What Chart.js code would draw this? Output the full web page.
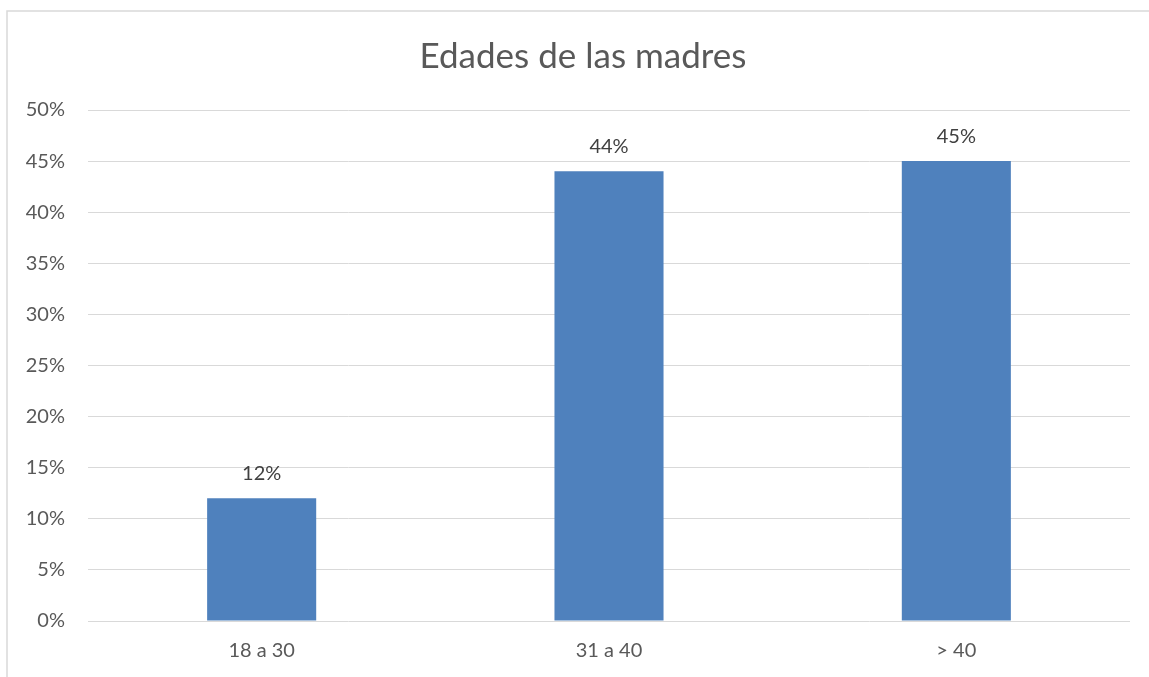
<!DOCTYPE html>
<html>
<head>
<meta charset="utf-8">
<script src="https://cdn.jsdelivr.net/npm/chart.js@4/dist/chart.umd.min.js"></script>
<style>
html,body{margin:0;padding:0;background:#fff;}
#wrap{position:relative;width:1149px;height:677px;}
</style>
</head>
<body>
<div id="wrap"><canvas id="c" width="1149" height="677"></canvas></div>
<script>
const titleText = "Edades de las madres";
const categories = ["18 a 30", "31 a 40", "> 40"];
const values = [12, 44, 45];
const yTicks = [0, 5, 10, 15, 20, 25, 30, 35, 40, 45, 50];

const FONT = 'Lato, "Open Sans", sans-serif';

const frame = {
  id: 'frame',
  beforeDraw(chart) {
    const ctx = chart.ctx;
    ctx.save();
    ctx.fillStyle = '#fff';
    ctx.fillRect(0, 0, chart.width, chart.height);
    ctx.strokeStyle = '#d9d9d9';
    ctx.lineWidth = 1.5;
    ctx.beginPath();
    ctx.moveTo(7, chart.height);
    ctx.lineTo(7, 11);
    ctx.lineTo(chart.width, 11);
    ctx.stroke();
    // chart title (centered on the full original chart frame)
    ctx.font = '35px ' + FONT;
    ctx.fillStyle = '#595959';
    ctx.textAlign = 'center';
    ctx.textBaseline = 'middle';
    ctx.fillText(titleText, 583, 57);
    ctx.restore();
  }
};

const labelsPlugin = {
  id: 'valueLabels',
  afterDatasetsDraw(chart) {
    const ctx = chart.ctx;
    const meta = chart.getDatasetMeta(0);
    ctx.save();
    ctx.font = '20px ' + FONT;
    ctx.fillStyle = '#404040';
    ctx.textAlign = 'center';
    ctx.textBaseline = 'middle';
    meta.data.forEach((bar, i) => {
      ctx.fillText(values[i] + '%', bar.x, bar.y - 25);
    });
    ctx.restore();
  }
};

new Chart(document.getElementById('c'), {
  type: 'bar',
  data: {
    labels: categories,
    datasets: [{
      data: values,
      backgroundColor: '#4f81bd',
      borderWidth: 0,
      categoryPercentage: 0.314,
      barPercentage: 1
    }]
  },
  options: {
    responsive: false,
    animation: false,
    events: [],
    layout: { padding: { left: 8, right: 19, top: 110, bottom: 0 } },
    plugins: {
      legend: { display: false },
      tooltip: { enabled: false },
      title: { display: false }
    },
    scales: {
      x: {
        grid: { display: false, drawTicks: false },
        border: { display: false },
        ticks: { color: '#595959', font: { family: FONT, size: 20 }, padding: 18 },
        afterFit(scale) { scale.height = 56; }
      },
      y: {
        min: 0,
        max: 50,
        afterBuildTicks(scale) { scale.ticks = yTicks.map(v => ({ value: v })); },
        grid: { color: '#d9d9d9', lineWidth: 1, drawTicks: false },
        border: { display: false },
        ticks: {
          color: '#595959',
          font: { family: FONT, size: 20 },
          padding: 23,
          callback: v => v + '%'
        },
        afterFit(scale) { scale.width = 80; }
      }
    }
  },
  plugins: [frame, labelsPlugin]
});
</script>
</body>
</html>
